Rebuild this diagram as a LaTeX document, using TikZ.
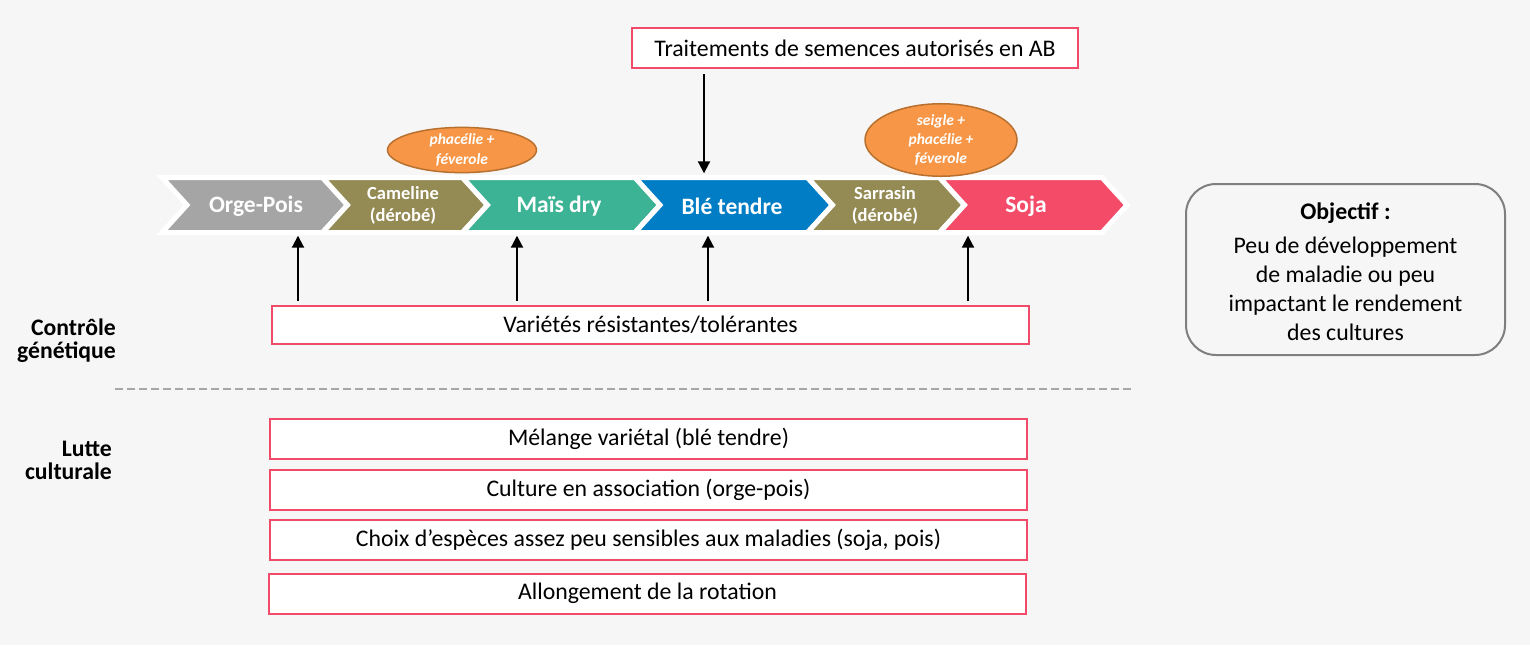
\documentclass[tikz,border=0pt]{standalone}
\usepackage{fontspec}
\setmainfont{Carlito}
\usetikzlibrary{arrows.meta,shapes.geometric,calc}
\definecolor{bg}{HTML}{F6F6F6}
\definecolor{cgray}{HTML}{A5A5A5}
\definecolor{colive}{HTML}{948A54}
\definecolor{cteal}{HTML}{3CB394}
\definecolor{cblue}{HTML}{007DC5}
\definecolor{cred}{HTML}{F44B69}
\definecolor{boxred}{HTML}{F04B68}
\definecolor{corange}{HTML}{F79646}
\definecolor{corangeD}{HTML}{B8702F}
\definecolor{objgray}{HTML}{7F7F7F}
\definecolor{dashgray}{HTML}{A6A6A6}
\newcommand\mychevron[3]{%
  \filldraw[chev, fill=#3] (#1,177.5) -- (#2,177.5) -- ({#2+25},205) -- (#2,232.5) -- (#1,232.5) -- ({#1+25},205) -- cycle;}
\begin{document}
\begin{tikzpicture}[x=1pt,y=-1pt,
  redbox/.style={draw=boxred, line width=2pt, fill=white, inner sep=0pt, font=\fontsize{23.8}{28}\selectfont},
  chevtxt/.style={text=white, font=\bfseries\fontsize{23.5}{28}\selectfont, minimum height=55pt, inner sep=0pt, align=center},
  chevsmall/.style={chevtxt, font=\bfseries\fontsize{18.5}{22}\selectfont},
  chev/.style={line width=5pt, draw=white, line join=miter},
  oval/.style={ellipse, draw=corangeD, fill=corange, line width=1.5pt, text=white, font=\bfseries\itshape\fontsize{15.5}{19.3}\selectfont, align=center, inner sep=0pt},
  arr/.style={line width=2pt, -{Triangle[width=12pt,length=12pt]}},
  lbl/.style={font=\bfseries\fontsize{23.7}{23}\selectfont, align=right, anchor=east, inner sep=0pt},
]
\fill[bg] (0,0) rectangle (1530,645);
\useasboundingbox (0,0) rectangle (1530,645);

% chevrons
\mychevron{162}{322.5}{cgray}
\mychevron{322.5}{462.5}{colive}
\mychevron{462.5}{635}{cteal}
\mychevron{635}{807.5}{cblue}
\mychevron{807.5}{939.5}{colive}
\mychevron{939.5}{1102}{cred}
\node[chevtxt] (c1) at (256,206) {Orge-Pois};
\node[chevsmall] (c2) at (403,205.5) {Cameline\\(dérobé)};
\node[chevtxt] (c3) at (559,206) {Maïs dry};
\node[chevtxt] (c4) at (732,206) {Blé tendre};
\node[chevsmall] (c5) at (885,205.5) {Sarrasin\\(dérobé)};
\node[chevtxt] (c6) at (1026,206) {Soja};

% ovals
\node[oval, minimum width=149pt, minimum height=42pt] (o1) at (462,150) {phacélie +\\féverole};
\node[oval, minimum width=152pt, minimum height=60pt] (o2) at (941,140) {seigle +\\phacélie +\\féverole};

% top box
\node[redbox, minimum width=446pt, minimum height=40pt] (trait) at (855,48) {Traitements de semences autorisés en AB};
\coordinate (ax4t) at (704,0);
\draw[arr, shorten <=5pt, shorten >=5pt] (trait.south -| ax4t) -- (c4.north -| ax4t);

% variétés
\node[redbox, minimum width=757pt, minimum height=38pt] (var) at (650.5,325) {Variétés résistantes/tolérantes};
\coordinate (ax1) at (298,0);
\coordinate (ax3) at (517,0);
\coordinate (ax4) at (708,0);
\coordinate (ax6) at (968,0);
\draw[arr, shorten <=4pt, shorten >=2pt] (var.north -| ax1) -- (c1.south -| ax1);
\draw[arr, shorten <=4pt, shorten >=2pt] (var.north -| ax3) -- (c3.south -| ax3);
\draw[arr, shorten <=4pt, shorten >=2pt] (var.north -| ax4) -- (c4.south -| ax4);
\draw[arr, shorten <=4pt, shorten >=2pt] (var.north -| ax6) -- (c6.south -| ax6);

% labels
\node[lbl] (lg) at (116,341) {Contrôle\\génétique};
\node[lbl] (lc) at (112,460) {Lutte\\culturale};

% dashed separator
\draw[dashgray, line width=2pt, dash pattern=on 8pt off 4pt] (115,389) -- (1133,389);

% bottom boxes
\node[redbox, minimum width=757pt, minimum height=40pt] (b1) at (648.5,438.5) {Mélange variétal (blé tendre)};
\node[redbox, minimum width=757pt, minimum height=40pt] (b2) at (648.5,490) {Culture en association (orge-pois)};
\node[redbox, minimum width=757pt, minimum height=40pt] (b3) at (648.5,540) {Choix d’espèces assez peu sensibles aux maladies (soja, pois)};
\node[redbox, minimum width=757pt, minimum height=40pt] (b4) at (647.5,593.5) {Allongement de la rotation};

% objectif
\node[draw=objgray, line width=2pt, rounded corners=30pt, minimum width=319pt, minimum height=171pt] (obj) at (1345.5,269.5) {};
\node[align=center, inner sep=0pt, font=\fontsize{23.8}{29}\selectfont] (objt) at ([yshift=-2.5pt]obj.center) {{\bfseries Objectif :}\\[5pt]Peu de développement\\de maladie ou peu\\impactant le rendement\\des cultures};
\end{tikzpicture}
\end{document}
